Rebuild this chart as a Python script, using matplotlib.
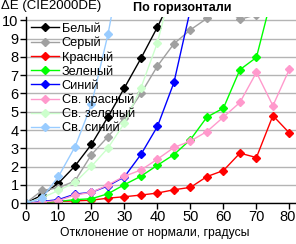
import matplotlib
matplotlib.use("Agg")
import matplotlib.pyplot as plt
import matplotlib.transforms as mtransforms

plt.rcParams["font.family"] = ["Liberation Sans", "DejaVu Sans"]

angles = [0, 5, 10, 15, 20, 25, 30, 35, 40, 45, 50, 55, 60, 65, 70, 75, 80]

white = [0, 0.45, 1.1, 2.04, 3.22, 4.72, 6.31, 7.92, 9.63, 11.5, 13.5, 15, 16, 17, 18, 19, 20]
gray = [0, 0.7, 0.85, 1.22, 2.66, 3.64, 4.67, 6.0, 7.5, 8.72, 9.48, 10.1, 10.7, 10.05, 10.3, 10.8, 11.2]
red = [0, 0.05, 0.1, 0.13, 0.17, 0.28, 0.36, 0.45, 0.56, 0.74, 0.87, 1.46, 1.79, 2.74, 2.5, 4.79, 3.84]
green = [0, 0.05, 0.1, 0.2, 0.25, 0.52, 1.02, 1.48, 2.08, 2.66, 3.48, 4.71, 5.2, 7.3, 7.97, 11.5, 13]
blue = [0, 0.1, 0.2, 0.5, 0.6, 0.95, 1.45, 2.67, 4.2, 6.6, 10.6, 13, 15, 16, 17, 18, 19]
light_red = [0, 0.07, 0.15, 0.45, 0.6, 1.0, 1.48, 1.82, 2.41, 3.05, 3.4, 3.92, 4.71, 5.51, 7.15, 5.33, 7.33]
light_green = [0, 0.3, 0.7, 1.14, 2.02, 3.02, 4.39, 6.31, 8.78, 12.3, 14, 15, 16, 17, 18, 19, 20]
light_blue = [0, 0.28, 1.47, 3.08, 5.4, 9.23, 14, 16, 17, 18, 19, 20, 21, 22, 23, 24, 25]

labels = ["Белый", "Серый", "Красный", "Зеленый", "Синий",
          "Св. красный", "Св. зеленый", "Св. синий"]
series = [white, gray, red, green, blue, light_red, light_green, light_blue]
colors = ["#000000", "#a0a0a0", "#ff0000", "#00ff00", "#0000ff",
          "#ff99cc", "#ccffcc", "#99ccff"]

W, H = 296, 244
fig = plt.figure(figsize=(W / 100, H / 100), dpi=100)
ax = fig.add_axes([25.5 / W, 1 - 203.3 / H, 270.5 / W, (203.3 - 16.6) / H])

for vals, lab, col in zip(series, labels, colors):
    ax.plot(angles, vals, color=col, lw=1.0, marker="D", ms=4,
            mec=col, mfc=col, label=lab)

ax.set_xlim(0, 82)
ax.set_ylim(0, 10.2)
ax.set_xticks(range(0, 81, 10))
ax.set_yticks(range(0, 11))
ax.yaxis.grid(True, color="#b4b4b4", lw=1.0)
ax.set_axisbelow(True)
for s in ["top", "right"]:
    ax.spines[s].set_visible(False)
ax.spines["left"].set_linewidth(1.0)
ax.spines["bottom"].set_linewidth(1.0)
ax.tick_params(axis="both", labelsize=10.5, length=4, width=1.0, pad=1)

# keep the last x label inside the picture
fig.canvas.draw()
last = ax.get_xticklabels()[-1]
last.set_transform(last.get_transform() +
                   mtransforms.ScaledTranslation(-2 / 100, 0, fig.dpi_scale_trans))

fig.text(1 / W, 1 - 0.5 / H, "ΔE (CIE2000DE)", fontsize=9.5, va="top", ha="left")
fig.text(182 / W, 1 - 1.5 / H, "По горизонтали", fontsize=9, fontweight="bold",
         va="top", ha="center")
fig.text(155 / W, 1 - 233 / H, "Отклонение от нормали, градусы", fontsize=8.7,
         va="center", ha="center")

ax.legend(loc="upper left", bbox_to_anchor=(31 / W, 1 - 22.5 / H),
          bbox_transform=fig.transFigure, frameon=False, fontsize=9.2,
          handlelength=2.2, handletextpad=0.2, labelspacing=0.16,
          borderpad=0, borderaxespad=0)

fig.savefig("out.png", dpi=100)
